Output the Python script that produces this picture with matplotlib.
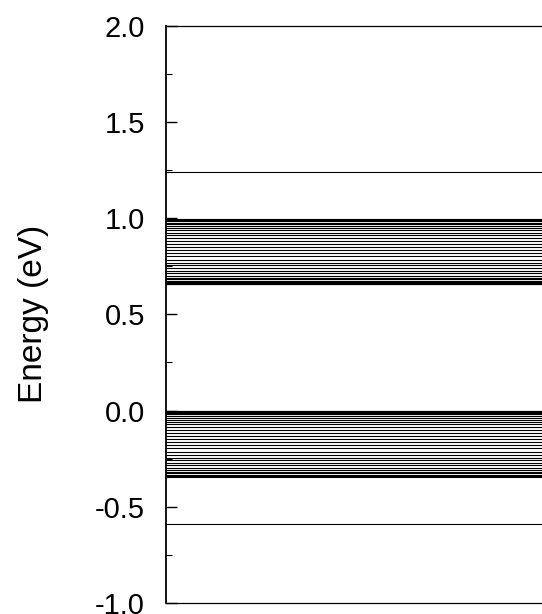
import matplotlib.pyplot as plt

plt.rcParams['font.family'] = ['Liberation Sans', 'DejaVu Sans']

# discrete energy levels (eV)
isolated_levels = [1.24, -0.59]
upper_band = [0.9942, 0.9919, 0.9881, 0.9828, 0.9761, 0.9680, 0.9586, 0.9480,
              0.9363, 0.9236, 0.9100, 0.8956, 0.8806, 0.8651, 0.8492, 0.8331,
              0.8169, 0.8008, 0.7849, 0.7694, 0.7544, 0.7400, 0.7264, 0.7137,
              0.7020, 0.6914, 0.6820, 0.6739, 0.6672, 0.6619, 0.6581, 0.6558]
lower_band = [-0.0008, -0.0031, -0.0070, -0.0124, -0.0192, -0.0274, -0.0369, -0.0477,
              -0.0595, -0.0724, -0.0862, -0.1008, -0.1161, -0.1318, -0.1480, -0.1643,
              -0.1807, -0.1970, -0.2130, -0.2289, -0.2442, -0.2588, -0.2726, -0.2855,
              -0.2973, -0.3080, -0.3174, -0.3256, -0.3324, -0.3377, -0.3416, -0.3439]
yticks = [-1.0, -0.5, 0.0, 0.5, 1.0, 1.5, 2.0]
yticklabels = ['-1.0', '-0.5', '0.0', '0.5', '1.0', '1.5', '2.0']

fig = plt.figure(figsize=(5.42, 6.14), dpi=100)
ax = fig.add_axes([0.306, 0.018, 0.8, 0.940])

for e in isolated_levels + upper_band + lower_band:
    ax.axhline(e, color='black', lw=0.8)

ax.set_ylim(-1.0, 2.0)
ax.set_xlim(0, 1)
ax.set_yticks(yticks)
ax.set_yticklabels(yticklabels)
ax.set_yticks([-0.75, -0.25, 0.25, 0.75, 1.25, 1.75], minor=True)
ax.tick_params(axis='y', which='major', direction='in', length=8, width=1,
               labelsize=21, pad=15)
ax.tick_params(axis='y', which='minor', direction='in', length=4, width=0.8)
ax.set_xticks([])
ax.set_ylabel('Energy (eV)', fontsize=24, labelpad=33)

ax.spines['left'].set_linewidth(1.3)
ax.spines['top'].set_linewidth(0.9)
ax.spines['bottom'].set_linewidth(0.9)

fig.savefig('out.png', dpi=100)
